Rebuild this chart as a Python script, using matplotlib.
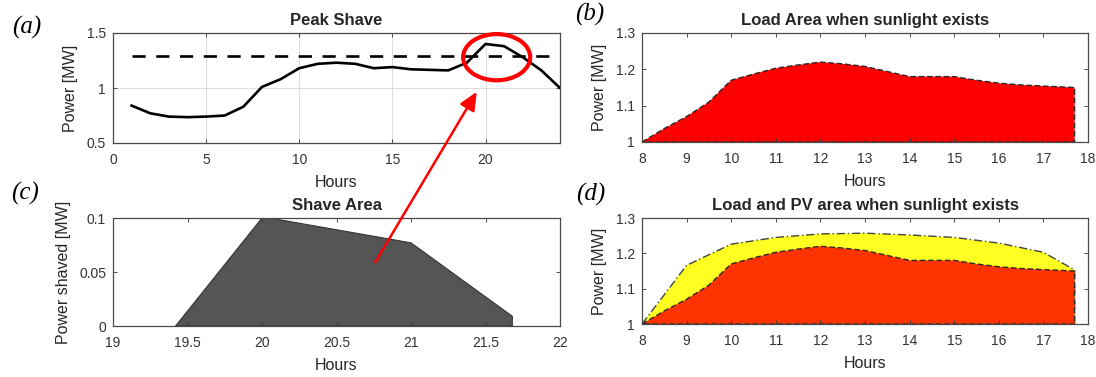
import matplotlib
matplotlib.use("Agg")
import matplotlib.pyplot as plt
from matplotlib.patches import Ellipse, ConnectionPatch
from matplotlib.ticker import FormatStrFormatter

plt.rcParams['font.family'] = ['Liberation Sans', 'DejaVu Sans']

# ---- data ----
hours = list(range(1, 25))
load = [0.84, 0.77, 0.74, 0.735, 0.74, 0.75, 0.83, 1.01, 1.08, 1.18, 1.22, 1.23,
        1.22, 1.18, 1.19, 1.17, 1.165, 1.16, 1.23, 1.40, 1.38, 1.28, 1.16, 1.0]
threshold = 1.29

sun_hours = [8.0, 8.5, 9.0, 9.5, 10.0, 10.5, 11.0, 11.5, 12.0, 12.5, 13.0, 13.5,
             14.0, 14.5, 15.0, 15.5, 16.0, 16.5, 17.0, 17.7]
sun_load = [1.0, 1.037, 1.07, 1.11, 1.17, 1.187, 1.203, 1.212, 1.22, 1.215, 1.208,
            1.194, 1.18, 1.18, 1.18, 1.17, 1.162, 1.157, 1.154, 1.15]

pv_hours = [8.0, 9.0, 10.0, 11.0, 12.0, 13.0, 14.0, 15.0, 16.0, 17.0, 17.7]
pv_load = [1.0, 1.166, 1.226, 1.245, 1.255, 1.257, 1.252, 1.245, 1.229, 1.203, 1.153]

shave_hours = [19.42, 20.0, 20.05, 21.0, 21.68, 21.68]
shave_vals = [0.0, 0.1, 0.1, 0.077, 0.009, 0.0]

base = 1.0

W, H = 1096, 377
fig = plt.figure(figsize=(W / 100, H / 100), dpi=100)

def rect(l, r, t, b):
    return [l / W, 1 - b / H, (r - l) / W, (b - t) / H]

axA = fig.add_axes(rect(113, 560, 33, 143))
axB = fig.add_axes(rect(642, 1088, 33, 142))
axC = fig.add_axes(rect(113, 560, 218, 326))
axD = fig.add_axes(rect(642, 1088, 218, 324))

spine_c = '#4a4a4a'
txt_c = '#333333'
for ax in (axA, axB, axC, axD):
    for s in ax.spines.values():
        s.set_color(spine_c)
        s.set_linewidth(0.9)
    ax.tick_params(direction='in', top=True, right=True, labelsize=10,
                   colors=txt_c, length=3, width=0.6)
    ax.tick_params(axis='x', pad=7)
    ax.tick_params(axis='y', pad=5)
    ax.yaxis.set_major_formatter(FormatStrFormatter('%g'))
    ax.xaxis.set_major_formatter(FormatStrFormatter('%g'))
    ax.set_xlabel('Hours', fontsize=11.5, color='#262626', labelpad=6)

# (a)
axA.plot(hours, load, color='black', lw=1.9)
axA.plot([hours[0], hours[-1]], [threshold, threshold], color='black', lw=1.9,
         linestyle=(0, (5, 4)))
axA.set_xlim(0, 24)
axA.set_ylim(0.5, 1.5)
axA.set_xticks([0, 5, 10, 15, 20])
axA.set_yticks([0.5, 1, 1.5])
axA.grid(True, color='#dddddd', lw=0.8)
axA.set_axisbelow(True)
axA.set_title('Peak Shave', fontsize=12, fontweight='bold', color='#262626', pad=6)
axA.set_ylabel('Power [MW]', fontsize=11.5, color='#262626', labelpad=6)

# (b)
xb = sun_hours + [sun_hours[-1], sun_hours[0]]
yb = sun_load + [base, base]
axB.fill(xb, yb, facecolor='#ff0000', edgecolor='#2a2a2a', lw=1.0,
         linestyle=(0, (4, 2)))
axB.set_xlim(8, 18)
axB.set_ylim(1.0, 1.3)
axB.set_xticks(range(8, 19))
axB.set_yticks([1, 1.1, 1.2, 1.3])
axB.set_title('Load Area when sunlight exists', fontsize=12, fontweight='bold',
              color='#262626', pad=6)
axB.set_ylabel('Power [MW]', fontsize=11.5, color='#262626', labelpad=6)

# (c)
axC.fill(shave_hours, shave_vals, facecolor='#555555', edgecolor='#333333', lw=0.8)
axC.set_xlim(19, 22)
axC.set_ylim(0, 0.1)
axC.set_xticks([19, 19.5, 20, 20.5, 21, 21.5, 22])
axC.set_yticks([0, 0.05, 0.1])
axC.set_title('Shave Area', fontsize=12, fontweight='bold', color='#262626', pad=6)
axC.set_ylabel('Power shaved [MW]', fontsize=11.5, color='#262626', labelpad=6)

# (d)
xd = pv_hours + [pv_hours[-1], pv_hours[0]]
yd = pv_load + [base, base]
axD.fill(xd, yd, facecolor='#ffff22', edgecolor='#444444', lw=1.0,
         linestyle=(0, (6, 2, 1, 2)))
axD.fill(xb, yb, facecolor='#ff3300', edgecolor='#2a2a2a', lw=1.0,
         linestyle=(0, (4, 2)))
axD.set_xlim(8, 18)
axD.set_ylim(1.0, 1.3)
axD.set_xticks(range(8, 19))
axD.set_yticks([1, 1.1, 1.2, 1.3])
axD.set_title('Load and PV area when sunlight exists', fontsize=12, fontweight='bold',
              color='#262626', pad=6)
axD.set_ylabel('Power [MW]', fontsize=11.5, color='#262626', labelpad=6)

# panel letters
for lab, (px, py) in {'(a)': (27, 27), '(b)': (590, 14),
                      '(c)': (25, 193), '(d)': (591, 194)}.items():
    fig.text(px / W, 1 - py / H, lab, fontsize=18, style='italic',
             family='Liberation Serif', ha='center', va='center')

# red annotation
ell = Ellipse((20.6, 1.28), width=3.6, height=0.42, fill=False,
              edgecolor='#ff0000', lw=3, clip_on=False, zorder=5)
axA.add_patch(ell)
con = ConnectionPatch(xyA=(20.76, 0.059), coordsA=axC.transData,
                      xyB=(19.53, 0.965), coordsB=axA.transData,
                      arrowstyle='-|>,head_length=1.1,head_width=0.5',
                      color='#ff0000', lw=1.8, zorder=10)
fig.add_artist(con)

fig.savefig('out.png', dpi=100)
